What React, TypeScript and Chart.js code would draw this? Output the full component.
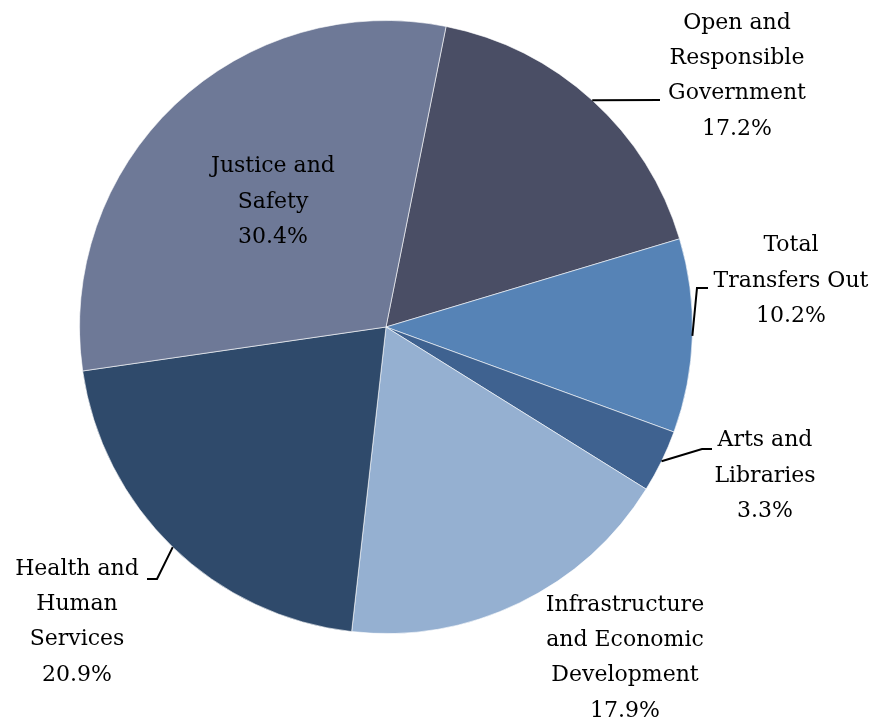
import React, { useEffect, useRef } from "react";
import { Chart, registerables } from "chart.js";

Chart.register(...registerables);

const categories = [
  "Open and Responsible Government",
  "Total Transfers Out",
  "Arts and Libraries",
  "Infrastructure and Economic Development",
  "Health and Human Services",
  "Justice and Safety",
];
const labelLines = [
  ["Open and", "Responsible", "Government"],
  ["Total", "Transfers Out"],
  ["Arts and", "Libraries"],
  ["Infrastructure", "and Economic", "Development"],
  ["Health and", "Human", "Services"],
  ["Justice and", "Safety"],
];
const values = [17.2, 10.2, 3.3, 17.9, 20.9, 30.4];
const colors = ["#4a4e65", "#5683b6", "#3f6290", "#95b0d1", "#2f4a6b", "#6e7997"];

// label layout, offsets from pie centre in px
const labelPos = [
  [351, -251],
  [405, -46],
  [379, 149],
  [239, 331],
  [-309, 295],
  [-113, -125],
];
// leader lines: points after the arc-midpoint start (offsets from centre); null = none
const leaders: (number[][] | null)[] = [
  [[274, -227]],
  [[311, -39], [322, -39]],
  [[316, 122], [326, 122]],
  null,
  [[-229, 252], [-239, 252]],
  null,
];

const FONT = "22px 'DejaVu Serif', serif";
const LINE_H = 35.3;

const labelPlugin = {
  id: "pieLabels",
  afterDatasetsDraw(chart: any) {
    const ctx = chart.ctx;
    const meta = chart.getDatasetMeta(0);
    ctx.save();
    meta.data.forEach((arc: any, i: number) => {
      const { x, y, startAngle, endAngle, outerRadius } = arc.getProps(
        ["x", "y", "startAngle", "endAngle", "outerRadius"],
        true
      );
      const mid = (startAngle + endAngle) / 2;
      const ld = leaders[i];
      if (ld) {
        ctx.beginPath();
        ctx.strokeStyle = "#000";
        ctx.lineWidth = 2;
        ctx.moveTo(x + Math.cos(mid) * outerRadius, y + Math.sin(mid) * outerRadius);
        ld.forEach((p) => ctx.lineTo(x + p[0], y + p[1]));
        ctx.stroke();
      }
      const lines = [...labelLines[i], values[i].toFixed(1) + "%"];
      const cx = x + labelPos[i][0];
      const cy = y + labelPos[i][1];
      ctx.font = FONT;
      ctx.fillStyle = "#000";
      ctx.textAlign = "center";
      ctx.textBaseline = "middle";
      const top = cy - ((lines.length - 1) * LINE_H) / 2;
      lines.forEach((t, k) => ctx.fillText(t, cx, top + k * LINE_H));
    });
    ctx.restore();
  },
};

export default function App() {
  const ref = useRef<HTMLCanvasElement>(null);
  useEffect(() => {
    const chart = new Chart(ref.current!, {
      type: "pie",
      data: {
        labels: categories,
        datasets: [
          {
            data: values,
            backgroundColor: colors,
            borderColor: "rgba(255,255,255,0.6)",
            borderWidth: 1,
          },
        ],
      },
      options: {
        animation: false,
        responsive: true,
        maintainAspectRatio: false,
        rotation: 11.3,
        layout: { padding: { left: 79, right: 181, top: 20, bottom: 87 } },
        plugins: { legend: { display: false }, tooltip: { enabled: false } },
      },
      plugins: [labelPlugin],
    });
    return () => chart.destroy();
  }, []);
  return (
    <div style={{ position: "fixed", left: 0, top: 0, width: 874, height: 721, background: "#fff" }}>
      <canvas ref={ref} />
    </div>
  );
}
